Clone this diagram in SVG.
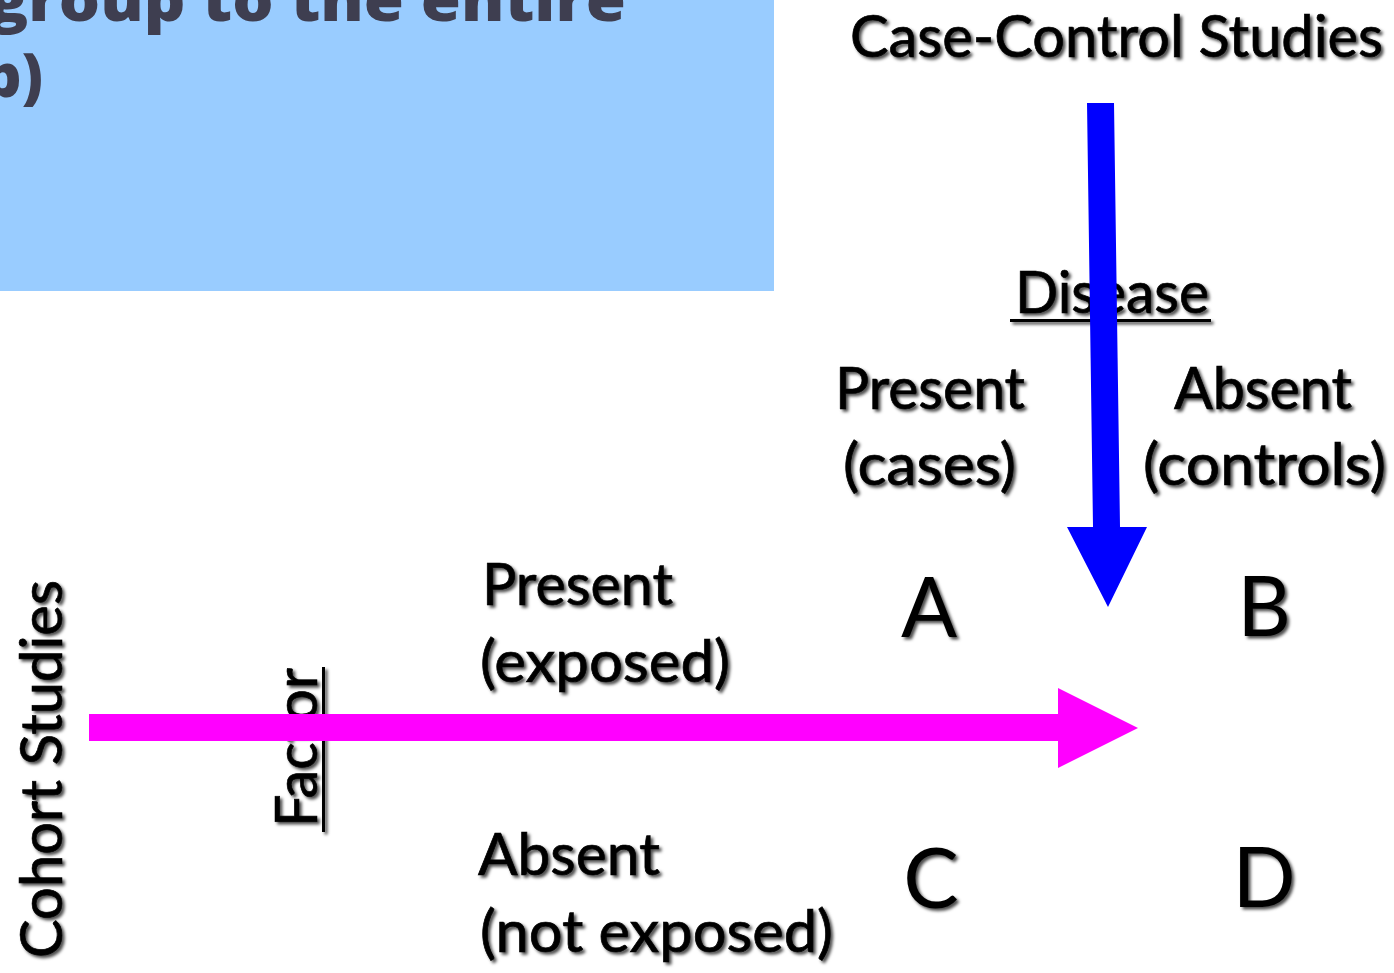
<svg xmlns="http://www.w3.org/2000/svg" width="1394" height="973" viewBox="0 0 1394 973">
  <style>
    .lbl { font-family: Lato, "Open Sans", "DejaVu Sans", sans-serif; font-size: 59px; fill: #000; stroke: #000; stroke-width: 0.7px; }
    .cell { font-family: Lato, "Open Sans", "DejaVu Sans", sans-serif; font-size: 83px; fill: #000; text-anchor: middle; }
    .banner { font-family: "Open Sans", "DejaVu Sans", sans-serif; font-weight: 800; font-size: 60px; fill: #3e3e50; }
    .shadowed { filter: url(#shadow); }
  </style>
  <defs>
    <filter id="shadow" x="-10%" y="-20%" width="130%" height="150%">
      <feDropShadow dx="2.5" dy="2.5" stdDeviation="1.4" flood-color="#000" flood-opacity="0.7"/>
    </filter>
  </defs>

  <rect width="1394" height="973" fill="#fff"/>

  <!-- banner box, partly off the left/top edge -->
  <g id="banner">
    <rect x="0" y="0" width="774" height="291" fill="#99ccff"/>
    <text class="banner" x="-11" y="21" textLength="637" lengthAdjust="spacingAndGlyphs">group to the entire</text>
    <text class="banner" x="43" y="97" text-anchor="end">p)</text>
  </g>

  <g class="shadowed">
    <g id="title-case-control">
      <text class="lbl" x="850" y="57" textLength="533" lengthAdjust="spacingAndGlyphs">Case-Control Studies</text>
    </g>

    <g id="header-disease">
      <text class="lbl" x="1015" y="313" textLength="194" lengthAdjust="spacingAndGlyphs">Disease</text>
      <rect x="1010" y="319" width="201" height="3" fill="#000"/>
    </g>

    <g id="col-present">
      <text class="lbl" x="835" y="409" textLength="190" lengthAdjust="spacingAndGlyphs">Present</text>
      <text class="lbl" x="843" y="485" textLength="173" lengthAdjust="spacingAndGlyphs">(cases)</text>
    </g>

    <g id="col-absent">
      <text class="lbl" x="1174" y="409" textLength="178" lengthAdjust="spacingAndGlyphs">Absent</text>
      <text class="lbl" x="1143" y="485" textLength="243" lengthAdjust="spacingAndGlyphs">(controls)</text>
    </g>

    <g id="row-present">
      <text class="lbl" x="482" y="605" textLength="191" lengthAdjust="spacingAndGlyphs">Present</text>
      <text class="lbl" x="480" y="682" textLength="250" lengthAdjust="spacingAndGlyphs">(exposed)</text>
    </g>

    <g id="row-absent">
      <text class="lbl" x="478" y="875" textLength="182" lengthAdjust="spacingAndGlyphs">Absent</text>
      <text class="lbl" x="480" y="952" textLength="353" lengthAdjust="spacingAndGlyphs">(not exposed)</text>
    </g>

    <g id="cell-a"><text class="cell" x="929" y="637">A</text></g>
    <g id="cell-b"><text class="cell" x="1264" y="636">B</text></g>
    <g id="cell-c"><text class="cell" x="931" y="908">C</text></g>
    <g id="cell-d"><text class="cell" x="1264" y="907">D</text></g>

    <g id="title-cohort">
      <text class="lbl" transform="translate(62 958) rotate(-90)" x="0" y="0" textLength="378" lengthAdjust="spacingAndGlyphs">Cohort Studies</text>
    </g>

    <g id="header-factor">
      <g transform="translate(317 827) rotate(-90)">
        <text class="lbl" x="0" y="0" textLength="159" lengthAdjust="spacingAndGlyphs">Factor</text>
        <rect x="-5" y="5" width="165" height="3" fill="#000"/>
      </g>
    </g>
  </g>

  <!-- study-direction arrows -->
  <g id="connectors">
    <polygon id="arrow-case-control" fill="#0000ff"
      points="1087,103 1114,103 1120,527 1147,527 1108,607 1067,527 1093,527"/>
    <polygon id="arrow-cohort" fill="#ff00ff"
      points="89,714 1058,714 1058,688 1138,728 1058,768 1058,741 89,741"/>
  </g>
</svg>
